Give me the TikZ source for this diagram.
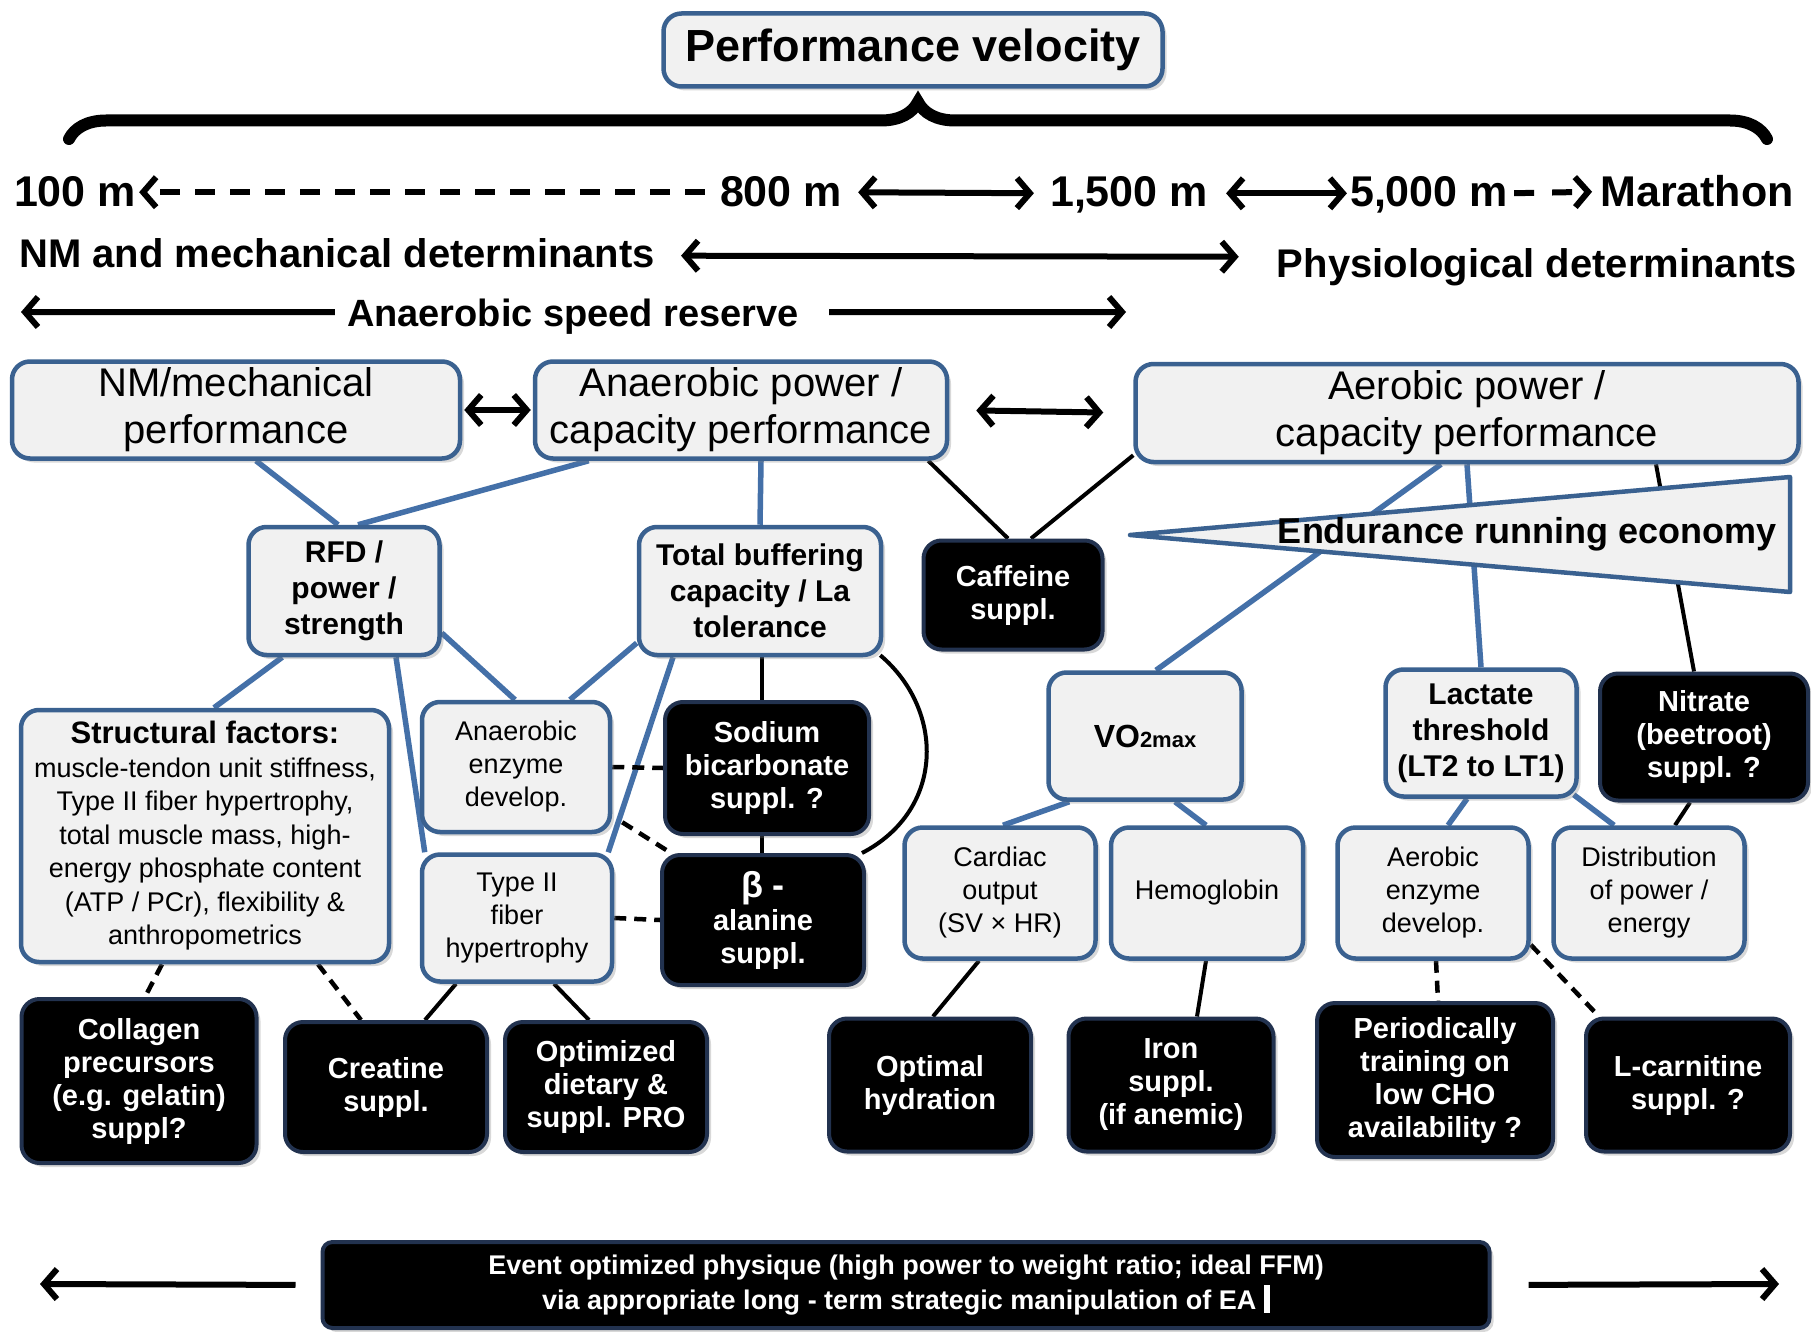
\documentclass[tikz,border=0pt]{standalone}
\usepackage{fontspec}
\setmainfont{Liberation Sans}
\usetikzlibrary{arrows.meta,calc,shadows,decorations.pathreplacing}
\definecolor{bdr}{HTML}{3A6190}
\definecolor{lnb}{HTML}{4470A8}
\definecolor{lgray}{HTML}{F1F1F1}
\definecolor{navy}{HTML}{22324F}
\newcommand{\fsz}[2]{\fontsize{#1pt}{#2pt}\selectfont}
\pgfdeclarelayer{bg}
\pgfsetlayers{bg,main}
\begin{document}
\begin{tikzpicture}[x=1pt,y=-1pt,
  >={Straight Barb[length=13pt,width=30pt,line width=6pt]},
  sz/.style 2 args={minimum width=#1pt,minimum height=#2pt},
  shd/.style={drop shadow={shadow xshift=4pt,shadow yshift=-4pt,opacity=0.3}},
  lbox/.style={draw=bdr,fill=lgray,line width=4.5pt,rounded corners=18pt,align=center,inner sep=0pt,shd},
  bbox/.style={draw=navy,fill=black,text=white,line width=4pt,rounded corners=18pt,align=center,inner sep=0pt,font=\bfseries\fsz{29}{33},shd},
  hd/.style={font=\bfseries\fsz{43}{48},inner sep=0pt,anchor=base},
  arw/.style={line width=6pt},
  bl/.style={draw=lnb,line width=5.5pt},
  kl/.style={draw=black,line width=4pt},
  kd/.style={draw=black,line width=4.5pt,dash pattern=on 12pt off 8pt}]
\useasboundingbox (0,0) rectangle (1811,1332);
\begin{pgfonlayer}{bg}
\fill[white] (0,0) rectangle (1811,1332);
\end{pgfonlayer}

% title and brace
\node[lbox,sz={499}{73},font=\bfseries\fsz{45}{50}] (pv) at (913,50) {Performance velocity};
\draw[line width=12pt,line cap=round,decorate,decoration={brace,amplitude=37pt}] (69,139) -- (1767,139);

% distances row
\node[hd] (t100) at (75,207) {100 m};
\node[hd] (t800) at (781,207) {800 m};
\node[hd] (t1500) at (1129,207) {1,500 m};
\node[hd] (t5000) at (1429,207) {5,000 m};
\node[hd] (tmar) at (1697,207) {Marathon};
\draw[arw,->,dash pattern=on 20pt off 15pt,shorten <=15pt,shorten >=3pt] (t800.west) -- (t100.east);
\draw[arw,<->,shorten <=16pt,shorten >=16pt] (t800.east) -- ($(t1500.west)+(0,-2)$);
\draw[arw,<->,shorten <=18pt,shorten >=3pt] ($(t1500.east)+(0,-2)$) -- ($(t5000.west)+(0,-2)$);
\draw[arw,->,dash pattern=on 20pt off 18pt,shorten <=6pt,shorten >=8pt] ($(t5000.east)+(0,-2)$) -- (tmar.west);

% determinants row
\node[font=\bfseries\fsz{40}{46},inner sep=0pt,anchor=base] (tnm) at (337,268) {NM and mechanical determinants};
\node[font=\bfseries\fsz{40}{46},inner sep=0pt,anchor=base] (tphys) at (1537,277) {Physiological determinants};
\draw[arw,<->] ($(tnm.east)+(26,2)$) -- ($(tphys.west)+(-38,-10)$);

% anaerobic speed reserve
\node[font=\bfseries\fsz{38}{44},inner sep=0pt,anchor=base] (tasr) at (573,326) {Anaerobic speed reserve};
\coordinate (asrL) at (21,312);
\coordinate (asrR) at (1126,312);
\draw[arw,->,shorten <=12pt] ($(tasr.west)+(0,-4)$) -- (asrL);
\draw[arw,->,shorten <=30pt] ($(tasr.east)+(0,-4)$) -- (asrR);

% main boxes
\node[lbox,sz={448}{97},font=\fsz{40}{47}] (nm) at (236,410) {NM/mechanical\\performance};
\node[lbox,sz={412}{97},font=\fsz{40}{47}] (ana) at (741,410) {Anaerobic power /\\capacity performance};
\node[lbox,sz={663}{98},font=\fsz{40}{47}] (aer) at (1467,413) {Aerobic power /\\capacity performance};
\draw[arw,<->,shorten <=2pt,shorten >=2pt] (nm.east) -- (ana.west);
\draw[arw,<->,shorten <=27pt,shorten >=30pt] (ana.east) -- (aer.west);

% endurance running economy wedge
\draw[fill=lgray,draw=bdr,line width=4.5pt,line join=round] (1130,535) -- (1790,477) -- (1790,592) -- cycle;
\node[font=\bfseries\fsz{36}{40},inner sep=0pt] (ere) at (1527,534) {Endurance running economy};

% second tier
\node[lbox,sz={191}{128},font=\bfseries\fsz{30}{36}] (rfd) at (344,591) {RFD /\\power /\\strength};
\node[lbox,sz={242}{128},font=\bfseries\fsz{30}{36}] (tb) at (760,591) {Total buffering\\capacity / La\\tolerance};
\node[bbox,sz={179}{109}] (caf) at (1013,595) {Caffeine\\suppl.};
\node[lbox,sz={193}{127}] (vo) at (1145,736) {{\bfseries\fsz{32}{36}VO}{\bfseries\fsz{22}{36}2max}};
\node[lbox,sz={191}{127},font=\bfseries\fsz{30}{36}] (lac) at (1481,733) {Lactate\\threshold\\(LT2 to LT1)};
\node[bbox,sz={208}{127}] (nit) at (1704,737) {Nitrate\\(beetroot)\\suppl. ?};

% left third tier
\node[lbox,sz={368}{252},font=\fsz{27}{33.5}] (str) at (205,836) {{\bfseries\fsz{31}{36}Structural factors:}\\muscle-tendon unit stiffness,\\Type II fiber hypertrophy,\\total muscle mass, high-\\energy phosphate content\\(ATP / PCr), flexibility \&\\anthropometrics};
\node[lbox,sz={188}{130},font=\fsz{27}{33}] (aen) at (516,767) {Anaerobic\\enzyme\\develop.};
\node[lbox,sz={190}{127},font=\fsz{27}{33}] (t2) at (517,918) {Type II\\fiber\\hypertrophy};
\node[bbox,sz={204}{132}] (sod) at (767,768) {Sodium\\bicarbonate\\suppl. ?};
\node[bbox,sz={202}{130}] (bal) at (763,920) {{\fsz{36}{36}β -}\\alanine\\suppl.};

% right third tier
\node[lbox,sz={191}{131},font=\fsz{27}{33}] (car) at (1000,893) {Cardiac\\output\\(SV × HR)};
\node[lbox,sz={192}{131},font=\fsz{27}{33}] (hem) at (1207,893) {Hemoglobin};
\node[lbox,sz={191}{131},font=\fsz{27}{33}] (aee) at (1433,893) {Aerobic\\enzyme\\develop.};
\node[lbox,sz={191}{131},font=\fsz{27}{33}] (dis) at (1649,893) {Distribution\\of power /\\energy};

% bottom black boxes
\node[bbox,sz={235}{164}] (col) at (139,1081) {Collagen\\precursors\\(e.g. gelatin)\\suppl?};
\node[bbox,sz={202}{130}] (cre) at (386,1087) {Creatine\\suppl.};
\node[bbox,sz={202}{130}] (opt) at (606,1087) {Optimized\\dietary \&\\suppl. PRO};
\node[bbox,sz={202}{133}] (hyd) at (930,1085) {Optimal\\hydration};
\node[bbox,sz={205}{133}] (iron) at (1171,1085) {Iron\\suppl.\\(if anemic)};
\node[bbox,sz={236}{154}] (per) at (1435,1080) {Periodically\\training on\\low CHO\\availability ?};
\node[bbox,sz={204}{133}] (lca) at (1688,1085) {L-carnitine\\suppl. ?};

% bottom bar
\node[bbox,sz={1167}{86},rounded corners=10pt,font=\bfseries\fsz{27}{35}] (ev) at (906,1285) {Event optimized physique (high power to weight ratio; ideal FFM)\\via appropriate long - term strategic manipulation of EA \rule[-4pt]{6pt}{28pt}};
\coordinate (evL) at (40,1284);
\coordinate (evR) at (1779,1284);
\draw[arw,->,shorten <=25pt] (ev.west) -- (evL);
\draw[arw,->,shorten <=37pt] (ev.east) -- (evR);

\begin{pgfonlayer}{bg}
% blue connectors
\draw[bl] ($(nm.south)+(20,0)$) -- ($(rfd.north)+(-6,0)$);
\draw[bl] ($(ana.south west)+(56,0)$) -- ($(rfd.north)+(14,0)$);
\draw[bl] ($(ana.south)+(20,0)$) -- (tb.north);
\draw[bl] ($(rfd.south west)+(36,0)$) -- ($(str.north)+(9,0)$);
\draw[bl] ($(rfd.south)+(52,0)$) -- ($(t2.north west)+(5,0)$);
\draw[bl] ($(rfd.east)+(0,42)$) -- ($(aen.north)+(-1,0)$);
\draw[bl] ($(tb.west)+(0,52)$) -- ($(aen.north)+(54,0)$);
\draw[bl] ($(tb.south)+(-87,0)$) -- ($(t2.north east)+(-6,0)$);
\draw[bl] ($(aer.south)+(-26,0)$) -- ($(vo.north)+(11,0)$);
\draw[bl] (aer.south) -- (lac.north);
\draw[bl] ($(vo.south west)+(23,0)$) -- ($(car.north)+(3,0)$);
\draw[bl] ($(vo.south)+(30,0)$) -- ($(hem.north)+(-1,0)$);
\draw[bl] ($(lac.south)+(-14,0)$) -- ($(aee.north)+(15,0)$);
\draw[bl] ($(lac.south east)+(-5,-4)$) -- ($(dis.north)+(-35,0)$);
% black connectors
\draw[kl] ($(tb.south)+(2,0)$) -- ($(sod.north)+(-5,0)$);
\draw[kl] ($(tb.south east)+(-3,-2)$) .. controls (945,710) and (945,810) .. ($(bal.north east)+(-4,0)$);
\draw[kl] ($(sod.south)+(-5,0)$) -- ($(bal.north)+(-1,0)$);
\draw[kl] ($(ana.south east)+(-21,0)$) -- ($(caf.north)+(-5,0)$);
\draw[kl] ($(aer.south west)+(0,-9)$) -- ($(caf.north)+(18,0)$);
\draw[kl] ($(aer.south)+(189,0)$) -- ($(nit.north)+(-10,0)$);
\draw[kl] ($(nit.south)+(-14,0)$) -- ($(dis.north)+(26,0)$);
\draw[kl] ($(car.south)+(-21,0)$) -- ($(hyd.north)+(3,0)$);
\draw[kl] ($(hem.south)+(-1,0)$) -- ($(iron.north)+(26,0)$);
\draw[kl] ($(t2.south)+(-61,0)$) -- ($(cre.north)+(39,0)$);
\draw[kl] ($(t2.south)+(37,0)$) -- ($(opt.north)+(-17,0)$);
% dashed connectors
\draw[kd] (aen.east) -- (sod.west);
\draw[kd] ($(aen.south east)+(10,-12)$) -- ($(bal.north west)+(11,0)$);
\draw[kd] (t2.east) -- (bal.west);
\draw[kd] ($(str.south)+(-43,0)$) -- ($(col.north)+(6,0)$);
\draw[kd] ($(str.south)+(113,0)$) -- ($(cre.north)+(-25,0)$);
\draw[kd] ($(aee.south)+(3,0)$) -- ($(per.north)+(3,0)$);
\draw[kd] ($(aee.south east)+(0,-16)$) -- ($(lca.north west)+(15,0)$);
\end{pgfonlayer}
\end{tikzpicture}
\end{document}
